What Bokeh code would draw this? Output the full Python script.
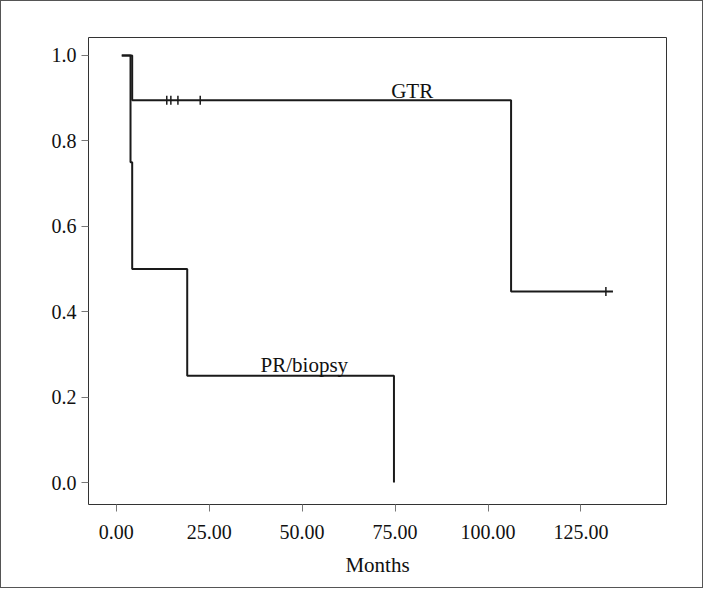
import numpy as np
from bokeh.plotting import figure
from bokeh.models import Range1d, FixedTicker, Label
from bokeh.embed import file_html
from bokeh.resources import INLINE

# ---- data ----
start_time = 1.5
gtr_event_times = [4.3, 106.2]
gtr_survival = [0.895, 0.447]
gtr_end_time = 133.6
gtr_censor_times = [13.6, 14.7, 16.6, 22.6, 131.7]
gtr_censor_surv = [0.895, 0.895, 0.895, 0.895, 0.447]

pr_event_times = [3.85, 4.3, 19.1, 74.7]
pr_survival = [0.75, 0.5, 0.25, 0.0]

x_ticks = [0, 25, 50, 75, 100, 125]
y_ticks = [0.0, 0.2, 0.4, 0.6, 0.8, 1.0]

FONT = "Liberation Serif"


def step_path(t0, times, surv, t_end=None):
    xs, ys = [t0], [1.0]
    s = 1.0
    for t, v in zip(times, surv):
        xs += [t, t]
        ys += [s, v]
        s = v
    if t_end is not None:
        xs.append(t_end)
        ys.append(s)
    return xs, ys


p = figure(width=703, height=588, output_backend="svg", toolbar_location=None,
           x_range=Range1d(-7.45, 148.0), y_range=Range1d(-0.0515, 1.042),
           min_border_left=87, min_border_top=36, min_border_right=38,
           min_border_bottom=85)
p.styles = {"border": "1px solid #555"}

p.grid.visible = False
p.outline_line_color = "#333333"
p.outline_line_width = 1
p.background_fill_color = "white"
p.border_fill_color = "white"

for ax in (p.xaxis[0], p.yaxis[0]):
    ax.axis_line_color = None
    ax.major_tick_line_color = "#777777"
    ax.major_tick_in = 0
    ax.major_tick_out = 7
    ax.minor_tick_line_color = None
    ax.major_label_text_font = FONT
    ax.major_label_text_font_size = "20px"
    ax.major_label_text_color = "#111111"
    ax.axis_label_text_font = FONT
    ax.axis_label_text_font_style = "normal"
    ax.axis_label_text_font_size = "21px"
    ax.axis_label_text_color = "#111111"

p.xaxis.ticker = FixedTicker(ticks=x_ticks)
p.xaxis.major_label_overrides = {t: f"{t:.2f}" for t in x_ticks}
p.xaxis.major_label_standoff = 13
p.xaxis.axis_label = "Months"
p.xaxis.axis_label_standoff = 11

p.yaxis.ticker = FixedTicker(ticks=y_ticks)
p.yaxis.major_label_overrides = {t: f"{t:.1f}" for t in y_ticks}
p.yaxis.major_label_standoff = 5

gx, gy = step_path(start_time, gtr_event_times, gtr_survival, gtr_end_time)
px, py = step_path(start_time, pr_event_times, pr_survival)

p.line(px, py, line_color="#1a1a1a", line_width=2)
p.line(gx, gy, line_color="#1a1a1a", line_width=2)
p.scatter(gtr_censor_times, gtr_censor_surv, marker="dash", angle=np.pi / 2,
          size=9, line_color="#1a1a1a", line_width=1.5)

p.add_layout(Label(x=79.6, y=0.9157, text="GTR", text_align="center",
                   text_baseline="alphabetic", text_font=FONT,
                   text_font_size="21px", text_color="#111111"))
p.add_layout(Label(x=50.6, y=0.274, text="PR/biopsy", text_align="center",
                   text_baseline="alphabetic", text_font=FONT,
                   text_font_size="21px", text_color="#111111"))

open("out.html", "w").write(file_html(p, INLINE))
